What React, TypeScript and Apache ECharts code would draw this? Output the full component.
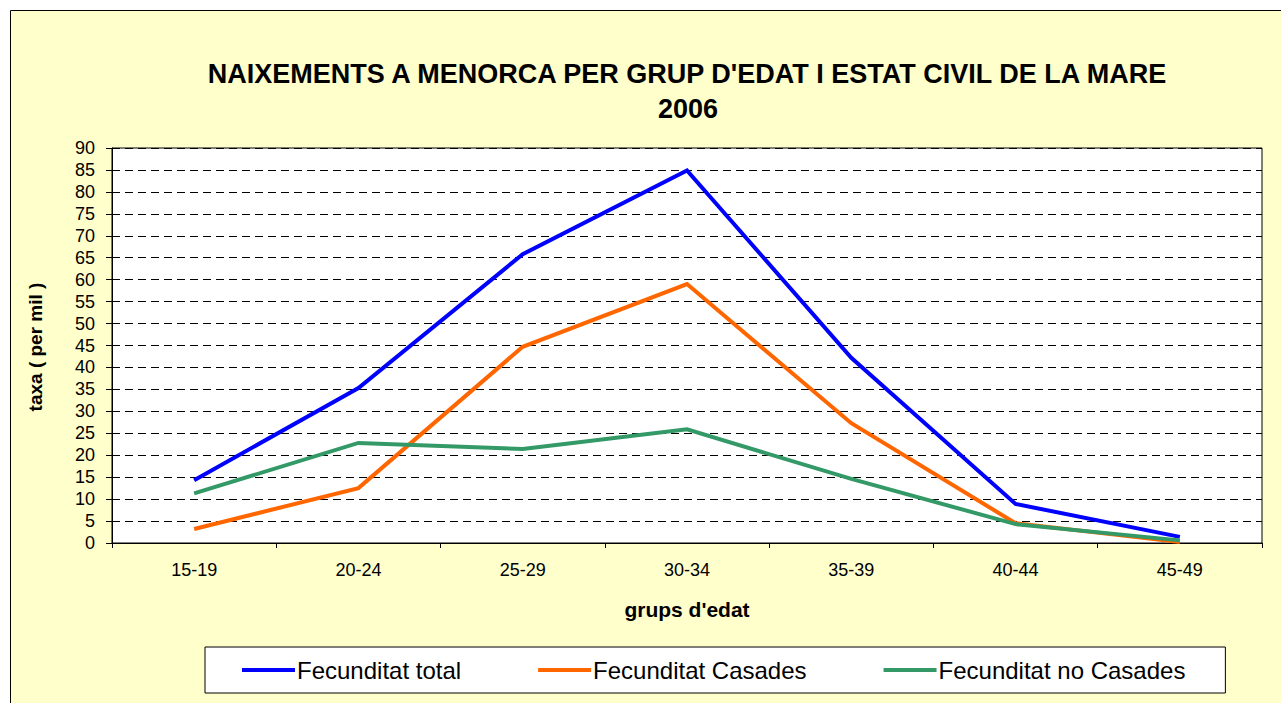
import React, { useEffect, useRef } from "react";
import * as echarts from "echarts";

const categories = ["15-19", "20-24", "25-29", "30-34", "35-39", "40-44", "45-49"];
const fecTotal = [14.3, 35.3, 65.8, 84.9, 42.2, 8.9, 1.4];
const fecCasades = [3.2, 12.5, 44.7, 59.0, 27.3, 4.5, 0.2];
const fecNoCasades = [11.3, 22.8, 21.4, 25.9, 14.6, 4.3, 0.6];
const seriesNames = ["Fecunditat total", "Fecunditat Casades", "Fecunditat no Casades"];
const seriesColors = ["#0000FF", "#FF6600", "#339966"];
const titleLines = ["NAIXEMENTS A MENORCA PER GRUP D'EDAT I ESTAT CIVIL DE LA MARE", "2006"];
const xAxisTitle = "grups d'edat";
const yAxisTitle = "taxa ( per mil )";
const yMin = 0;
const yMax = 90;
const yStep = 5;

const FONT = '"Liberation Sans", Arial, sans-serif';

export default function App() {
  const ref = useRef<HTMLDivElement>(null);

  useEffect(() => {
    if (!ref.current) return;
    const chart = echarts.init(ref.current, null, { renderer: "svg" });
    const seriesData = [fecTotal, fecCasades, fecNoCasades];
    chart.setOption({
      animation: false,
      textStyle: { fontFamily: FONT },
      graphic: [
        {
          type: "rect",
          z: -100,
          silent: true,
          shape: { x: 10.5, y: 10.5, width: 1300, height: 720 },
          style: { fill: "#FFFFCC", stroke: "#000", lineWidth: 1 },
        },
        {
          type: "text",
          x: 687,
          y: 74,
          silent: true,
          style: {
            text: titleLines[0],
            fontSize: 27,
            fontWeight: "bold",
            fontFamily: FONT,
            fill: "#000",
            align: "center",
            verticalAlign: "middle",
          },
        },
        {
          type: "text",
          x: 688,
          y: 109,
          silent: true,
          style: {
            text: titleLines[1],
            fontSize: 27,
            fontWeight: "bold",
            fontFamily: FONT,
            fill: "#000",
            align: "center",
            verticalAlign: "middle",
          },
        },
        {
          type: "text",
          x: 687,
          y: 609,
          silent: true,
          style: {
            text: xAxisTitle,
            fontSize: 21,
            fontWeight: "bold",
            fontFamily: FONT,
            fill: "#000",
            align: "center",
            verticalAlign: "middle",
          },
        },
        {
          type: "text",
          x: 35,
          y: 347,
          rotation: Math.PI / 2,
          silent: true,
          style: {
            text: yAxisTitle,
            fontSize: 19,
            fontWeight: "bold",
            fontFamily: FONT,
            fill: "#000",
            align: "center",
            verticalAlign: "middle",
          },
        },
      ],
      grid: {
        left: 112,
        right: 19,
        top: 148,
        bottom: 160,
        show: true,
        backgroundColor: "#FFFFFF",
        borderColor: "#000",
        borderWidth: 1,
      },
      legend: {
        left: 205,
        top: 647,
        orient: "horizontal",
        data: seriesNames.map((n) => ({ name: n, icon: "rect" })),
        itemWidth: 53,
        itemHeight: 4,
        itemGap: 77,
        padding: [11, 40, 11, 37],
        backgroundColor: "#FFFFFF",
        borderColor: "#000",
        borderWidth: 1,
        textStyle: { fontSize: 24, color: "#000", fontFamily: FONT, padding: [0, 0, 0, -3] },
      },
      xAxis: {
        type: "category",
        data: categories,
        boundaryGap: true,
        axisLine: { lineStyle: { color: "#000", width: 1 } },
        axisTick: { show: true, length: 5, lineStyle: { color: "#000" } },
        axisLabel: { fontSize: 18, color: "#000", margin: 18, interval: 0, fontFamily: FONT },
        splitLine: { show: false },
      },
      yAxis: {
        type: "value",
        min: yMin,
        max: yMax,
        interval: yStep,
        axisLine: { show: true, lineStyle: { color: "#000", width: 1 } },
        axisTick: { show: true, length: 6, lineStyle: { color: "#000" } },
        axisLabel: { fontSize: 18, color: "#000", margin: 17, fontFamily: FONT },
        splitLine: { show: true, lineStyle: { color: "#000", type: [8, 5], width: 1 } },
      },
      series: seriesNames.map((name, i) => ({
        type: "line",
        name,
        data: seriesData[i],
        symbol: "none",
        lineStyle: { width: 4, color: seriesColors[i], join: "miter", cap: "butt" },
        itemStyle: { color: seriesColors[i] },
      })),
    });
    return () => chart.dispose();
  }, []);

  return (
    <div
      ref={ref}
      style={{ position: "absolute", left: 0, top: 0, width: 1281, height: 703, background: "#FFFFFF" }}
    />
  );
}
